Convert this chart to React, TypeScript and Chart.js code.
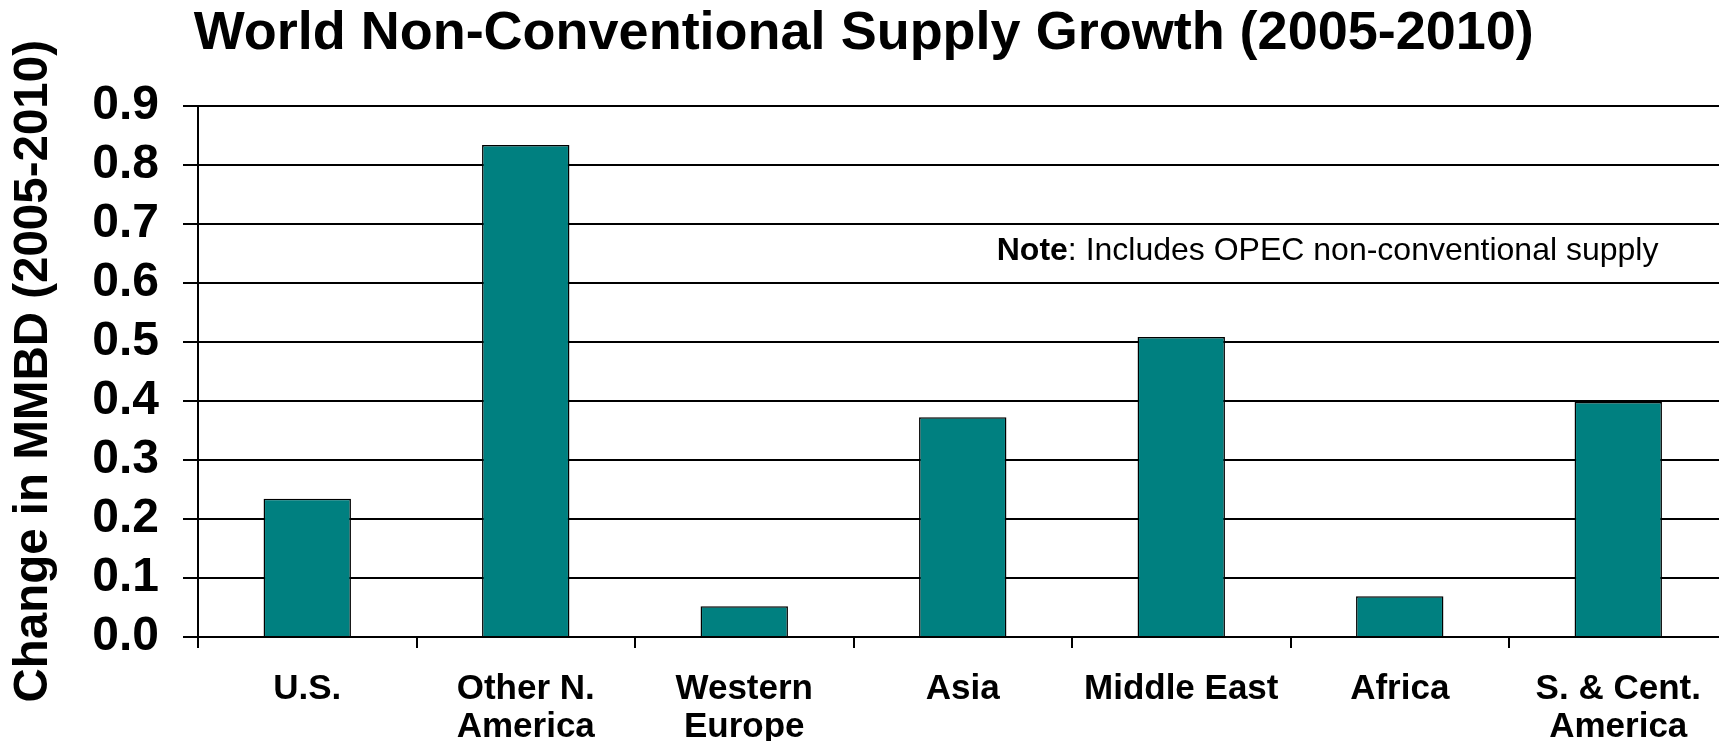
import React, { useEffect, useRef } from "react";
import { Chart, registerables } from "chart.js";

Chart.register(...registerables);

const categories: string[][] = [
  ["U.S."],
  ["Other N.", "America"],
  ["Western", "Europe"],
  ["Asia"],
  ["Middle East"],
  ["Africa"],
  ["S. & Cent.", "America"],
];
const growthValues: number[] = [0.234, 0.833, 0.052, 0.372, 0.508, 0.069, 0.398];
const titleText = "World Non-Conventional Supply Growth (2005-2010)";
const yAxisTitle = "Change in MMBD (2005-2010)";
const noteBold = "Note";
const noteRest = ": Includes OPEC non-conventional supply";

const notePlugin = {
  id: "notePlugin",
  afterDraw(chart: any) {
    const { ctx, scales } = chart;
    const x = scales.x.getPixelForValue(3) + 34;
    const y = scales.y.getPixelForValue(0.654);
    ctx.save();
    ctx.fillStyle = "#000";
    ctx.textBaseline = "middle";
    ctx.textAlign = "left";
    ctx.font = "bold 32px 'Liberation Sans', Arial, sans-serif";
    ctx.fillText(noteBold, x, y);
    const w = ctx.measureText(noteBold).width;
    ctx.font = "32px 'Liberation Sans', Arial, sans-serif";
    ctx.fillText(noteRest, x + w, y);
    ctx.restore();
  },
};

export default function App() {
  const ref = useRef<HTMLCanvasElement | null>(null);
  useEffect(() => {
    if (!ref.current) return;
    const font = "'Liberation Sans', Arial, sans-serif";
    const chart = new Chart(ref.current, {
      type: "bar",
      data: {
        labels: categories,
        datasets: [
          {
            data: growthValues,
            backgroundColor: "#008080",
            borderColor: "#000",
            borderWidth: 1.5,
            barPercentage: 0.4,
            categoryPercentage: 1,
          },
        ],
      },
      options: {
        animation: false,
        responsive: false,
        devicePixelRatio: 1,
        layout: { padding: { top: 0, right: 2.5, bottom: 0, left: 0 } },
        plugins: {
          legend: { display: false },
          tooltip: { enabled: false },
          title: {
            display: true,
            text: titleText,
            color: "#000",
            font: { family: font, size: 54, weight: "bold", lineHeight: 1.2 },
            padding: { top: 1.5, bottom: 39.2 },
          },
        },
        scales: {
          x: {
            afterFit: (scale: any) => {
              scale.height = 104;
            },
            grid: {
              offset: true,
              drawOnChartArea: false,
              drawTicks: true,
              tickLength: 11,
              color: "#000",
              lineWidth: 2,
            },
            border: { display: true, color: "#000", width: 2 },
            ticks: {
              color: "#000",
              maxRotation: 0,
              autoSkip: false,
              padding: 22.5,
              font: { family: font, size: 35, weight: "bold", lineHeight: 1.086 },
            },
          },
          y: {
            min: 0,
            max: 0.9,
            afterFit: (scale: any) => {
              scale.width = 198;
            },
            grid: { color: "#000", lineWidth: 2, tickLength: 15, drawTicks: true },
            border: { display: true, color: "#000", width: 2 },
            ticks: {
              stepSize: 0.1,
              autoSkip: false,
              color: "#000",
              padding: 24,
              font: { family: font, size: 48, weight: "bold" },
              callback: (v: any) => Number(v).toFixed(1),
            },
            title: {
              display: true,
              text: yAxisTitle,
              color: "#000",
              font: { family: font, size: 47.5, weight: "bold", lineHeight: 1 },
              padding: { top: 10, bottom: 0 },
            },
          },
        },
      },
      plugins: [notePlugin],
    });
    return () => chart.destroy();
  }, []);
  return (
    <div
      style={{
        position: "fixed",
        left: 0,
        top: 0,
        width: 1719,
        height: 741,
        overflow: "hidden",
        background: "#fff",
      }}
    >
      <canvas ref={ref} width={1730} height={741} style={{ display: "block" }} />
    </div>
  );
}
